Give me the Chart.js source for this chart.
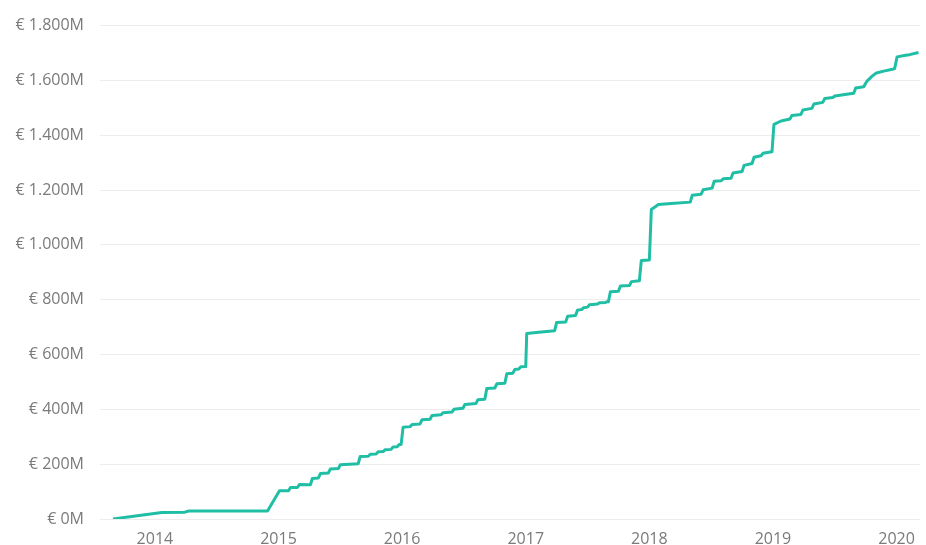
<!DOCTYPE html>
<html>
<head>
<meta charset="utf-8">
<script src="https://cdn.jsdelivr.net/npm/chart.js@4"></script>
<style>
  html, body { margin: 0; padding: 0; background: #fff; }
  #wrap { width: 926px; height: 545px; position: relative; }
</style>
</head>
<body>
<div id="wrap"><canvas id="chart"></canvas></div>
<script>
  // --- data: corners of the cumulative line (decimal year, € millions)
  const dates = [
    2013.661, 2014.056, 2014.242, 2014.274, 2014.911,
    2015.008, 2015.081, 2015.097, 2015.153, 2015.169, 2015.258, 2015.274, 2015.323, 2015.339,
    2015.403, 2015.419, 2015.484, 2015.500, 2015.645, 2015.661, 2015.726, 2015.742, 2015.790,
    2015.806, 2015.847, 2015.863, 2015.911, 2015.927, 2015.960, 2015.976, 2015.992,
    2016.008, 2016.065, 2016.081, 2016.145, 2016.161, 2016.226, 2016.242, 2016.315, 2016.331,
    2016.403, 2016.419, 2016.492, 2016.508, 2016.597, 2016.613, 2016.669, 2016.685, 2016.750,
    2016.766, 2016.831, 2016.847, 2016.895, 2016.911, 2016.944, 2016.960, 2017.000,
    2017.008, 2017.105, 2017.234, 2017.250, 2017.323, 2017.339, 2017.403, 2017.419, 2017.452,
    2017.468, 2017.500, 2017.516, 2017.581, 2017.597, 2017.645, 2017.661, 2017.669, 2017.685,
    2017.750, 2017.766, 2017.839, 2017.855, 2017.919, 2017.935, 2018.000,
    2018.016, 2018.073, 2018.177, 2018.331, 2018.347, 2018.419, 2018.435, 2018.508, 2018.524,
    2018.581, 2018.597, 2018.661, 2018.677, 2018.750, 2018.766, 2018.831, 2018.847, 2018.903,
    2018.919, 2018.992,
    2019.008, 2019.065, 2019.137, 2019.153, 2019.226, 2019.242, 2019.315, 2019.331, 2019.403,
    2019.419, 2019.484, 2019.500, 2019.653, 2019.669, 2019.734, 2019.750, 2019.766, 2019.782,
    2019.798, 2019.831, 2019.895, 2019.968, 2019.984,
    2020.004, 2020.073, 2020.105, 2020.177
  ];
  const values = [
    0, 24, 25, 29, 29,
    103, 103, 115, 115, 126, 125, 148, 150, 166,
    168, 182, 184, 198, 202, 228, 229, 236, 237,
    245, 246, 253, 254, 263, 264, 272, 272,
    335, 337, 345, 347, 362, 364, 378, 380, 388,
    390, 400, 404, 418, 421, 435, 437, 476, 478,
    493, 495, 530, 532, 545, 547, 555, 556,
    677, 681, 687, 717, 719, 740, 742, 762, 764,
    771, 773, 782, 784, 789, 790, 793, 793, 829,
    831, 850, 852, 866, 869, 943, 945,
    1129, 1147, 1151, 1156, 1181, 1185, 1201, 1207, 1232,
    1234, 1241, 1243, 1262, 1268, 1290, 1297, 1320, 1325,
    1334, 1340,
    1440, 1452, 1459, 1472, 1476, 1492, 1498, 1514, 1520,
    1534, 1538, 1543, 1553, 1572, 1577, 1590, 1600, 1606,
    1614, 1626, 1634, 1641, 1643,
    1686, 1692, 1694, 1702
  ];
  const xTicks = [2014, 2015, 2016, 2017, 2018, 2019, 2020];
  const yTicks = [0, 200, 400, 600, 800, 1000, 1200, 1400, 1600, 1800];

  const points = dates.map((d, i) => ({ x: d, y: values[i] }));

  function euro(v) {
    const s = v >= 1000 ? Math.floor(v / 1000) + '.' + String(v % 1000).padStart(3, '0') : String(v);
    return '€ ' + s + 'M';
  }

  const labelFont = { family: "'Open Sans', 'Noto Sans', sans-serif", size: 16 };

  new Chart(document.getElementById('chart').getContext('2d'), {
    type: 'line',
    data: {
      datasets: [{
        data: points,
        borderColor: '#1fbea5',
        borderWidth: 3,
        borderJoinStyle: 'round',
        pointRadius: 0,
        tension: 0,
        fill: false
      }]
    },
    options: {
      responsive: true,
      maintainAspectRatio: false,
      animation: false,
      layout: { padding: { top: 24, right: 4, left: 0, bottom: 0 } },
      plugins: { legend: { display: false }, tooltip: { enabled: false } },
      scales: {
        x: {
          type: 'linear',
          min: 2013.556,
          max: 2020.19,
          grid: { display: false, drawTicks: false },
          border: { display: false },
          afterBuildTicks: s => { s.ticks = xTicks.map(v => ({ value: v })); },
          afterFit: s => { s.height = 26; },
          ticks: {
            color: '#7a7a7a',
            font: labelFont,
            padding: 11,
            maxRotation: 0,
            autoSkip: false,
            callback: v => String(v)
          }
        },
        y: {
          min: 0,
          max: 1800,
          grid: { color: '#ececec', lineWidth: 1, drawTicks: false },
          border: { display: false },
          afterBuildTicks: s => { s.ticks = yTicks.map(v => ({ value: v })); },
          afterFit: s => { s.width = 100; },
          ticks: {
            color: '#7a7a7a',
            font: labelFont,
            padding: 16,
            callback: v => euro(v)
          }
        }
      }
    }
  });
</script>
</body>
</html>
